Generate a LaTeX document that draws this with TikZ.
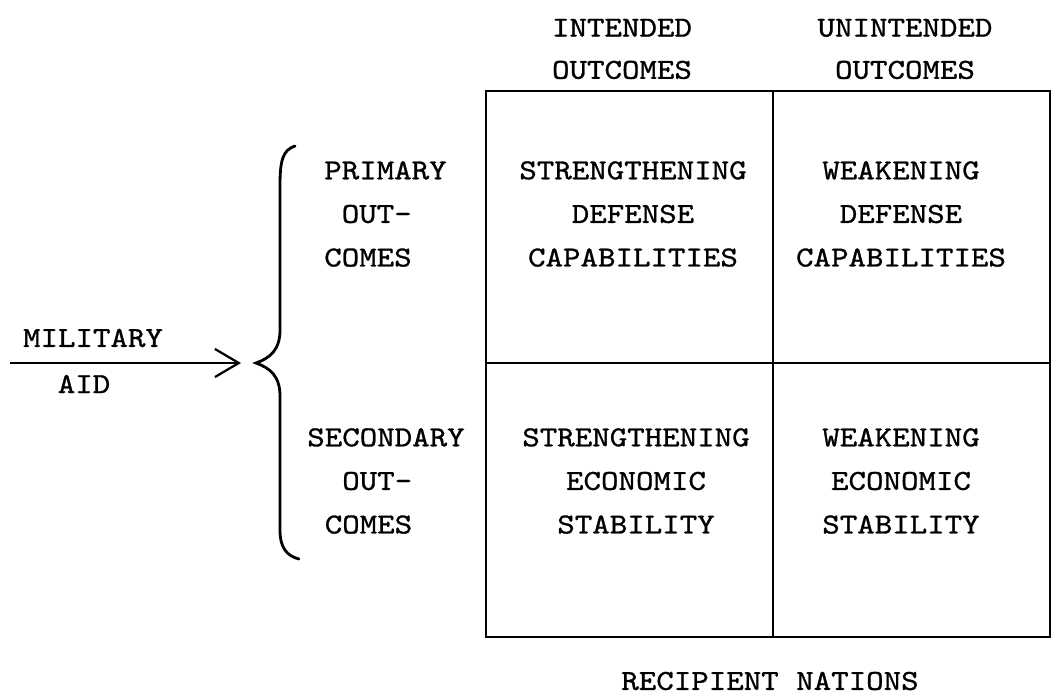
\documentclass[tikz,border=0pt]{standalone}
\usepackage{fontspec}
\newfontfamily\typefont[FakeStretch=1.15, FakeBold=1]{lmmono10-regular.otf}
\usetikzlibrary{arrows.meta}

\begin{document}
\begin{tikzpicture}[x = 0.025cm, y = -0.025cm,
  typed/.style = {font = \typefont\fontsize{20.6}{31}\selectfont, align = center, inner sep = 0pt},
  rule/.style = {line width = 2pt}]
\useasboundingbox (0,0) rectangle (1052,698);
% the 2 x 2 table
\draw[rule] (486,91) rectangle (1050,637);
\draw[rule] (773,91) -- (773,637);
\draw[rule] (486,363) -- (1050,363);
% column heads
\node[typed, font = \typefont\fontsize{20.6}{30}\selectfont] (intended) at (622,49) {INTENDED\\OUTCOMES};
\node[typed, font = \typefont\fontsize{20.6}{30}\selectfont] (unintended) at (905,49) {UNINTENDED\\OUTCOMES};
% cells
\node[typed] (strdef) at (633,214) {STRENGTHENING\\DEFENSE\\CAPABILITIES};
\node[typed] (weakdef) at (901,214) {WEAKENING\\DEFENSE\\CAPABILITIES};
\node[typed] (streco) at (636,481) {STRENGTHENING\\ECONOMIC\\STABILITY};
\node[typed] (weakeco) at (901,481) {WEAKENING\\ECONOMIC\\STABILITY};
% row heads
\node[typed, align = left, anchor = west] (primary) at (324,214) {PRIMARY\\\phantom{X}OUT-\\COMES};
\node[typed, align = left, anchor = west] (secondary) at (307,481) {SECONDARY\\\phantom{XX}OUT-\\\phantom{X}COMES};
% brace
\draw[line width = 2pt, line cap = round] (295,146) .. controls (283,150) and (280,160) .. (280,185)
  -- (280,330) .. controls (280,350) and (270,358) .. (256,363)
  .. controls (270,368) and (280,376) .. (280,396)
  -- (280,530) .. controls (280,548) and (287,556) .. (299,559);
\coordinate (bracetip) at (256,363);
% military aid
\coordinate (aidstart) at (10,363);
\coordinate (aidend) at (241,363);
\draw[line width = 1.6pt, -{Straight Barb[length=17pt, width=20pt, line width=1.6pt]}] (aidstart) -- (aidend);
\node[typed] (military) at (93,338) {MILITARY};
\node[typed] (aid) at (84,384) {AID};
% below the table
\node[typed] (recipient) at (770,681) {RECIPIENT NATIONS};
\end{tikzpicture}
\end{document}
